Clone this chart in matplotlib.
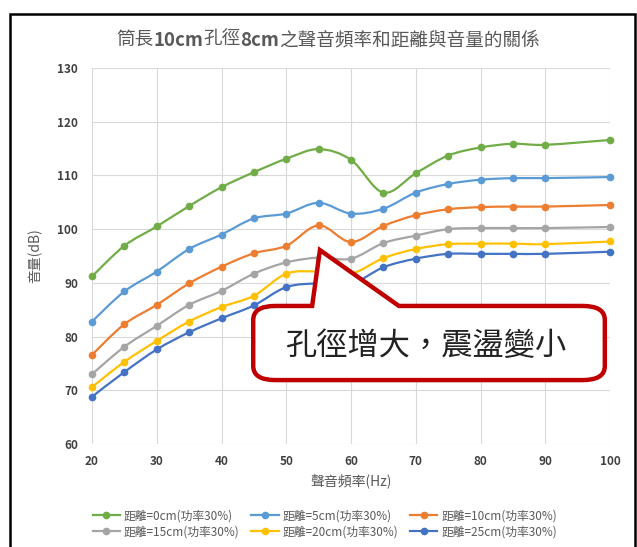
import numpy as np
import matplotlib
matplotlib.use("Agg")
import matplotlib.pyplot as plt
from matplotlib.path import Path
from matplotlib.patches import PathPatch, Rectangle
from matplotlib.lines import Line2D

plt.rcParams['font.family'] = ['Noto Sans CJK TC', 'DejaVu Sans']

# 聲音頻率 (Hz) 與各距離下量到的音量 (dB)
freq = [20, 25, 30, 35, 40, 45, 50, 55, 60, 65, 70, 75, 80, 85, 90, 100]
vol_0cm = [91.2, 96.9, 100.5, 104.3, 107.8, 110.6, 113.1, 114.9, 112.9, 106.8, 110.4, 113.7, 115.2, 115.9, 115.7, 116.6]
vol_5cm = [82.8, 88.4, 92.1, 96.3, 99.0, 102.0, 102.9, 104.9, 102.9, 103.8, 106.8, 108.4, 109.2, 109.5, 109.5, 109.7]
vol_10cm = [76.6, 82.3, 85.9, 89.9, 93.0, 95.5, 96.9, 100.7, 97.6, 100.6, 102.6, 103.7, 104.1, 104.2, 104.2, 104.5]
vol_15cm = [73.0, 78.1, 82.0, 85.9, 88.5, 91.7, 93.8, 94.7, 94.5, 97.4, 98.8, 100.0, 100.2, 100.2, 100.2, 100.4]
vol_20cm = [70.6, 75.3, 79.2, 82.8, 85.5, 87.6, 91.7, 92.1, 91.7, 94.6, 96.3, 97.2, 97.3, 97.3, 97.2, 97.7]
vol_25cm = [68.8, 73.4, 77.6, 80.8, 83.4, 85.8, 89.2, 89.9, 89.8, 92.9, 94.5, 95.4, 95.4, 95.4, 95.4, 95.8]

labels = ["距離=0cm(功率30%)", "距離=5cm(功率30%)", "距離=10cm(功率30%)",
          "距離=15cm(功率30%)", "距離=20cm(功率30%)", "距離=25cm(功率30%)"]
colors = ["#70AD47", "#5B9BD5", "#ED7D31", "#A5A5A5", "#FFC000", "#4472C4"]
series = [vol_0cm, vol_5cm, vol_10cm, vol_15cm, vol_20cm, vol_25cm]

note = "孔徑增大，震盪變小"


def smooth_path(xs, ys):
    # Catmull-Rom style bezier through the points (like Excel's smoothed line)
    pts = np.column_stack([xs, ys]).astype(float)
    n = len(pts)
    verts = [pts[0]]
    codes = [Path.MOVETO]
    for i in range(n - 1):
        p0 = pts[max(i - 1, 0)]
        p1 = pts[i]
        p2 = pts[i + 1]
        p3 = pts[min(i + 2, n - 1)]
        verts += [p1 + (p2 - p0) / 6, p2 - (p3 - p1) / 6, p2]
        codes += [Path.CURVE4] * 3
    return Path(verts, codes)


W, H = 637, 547
fig = plt.figure(figsize=(W / 100, H / 100), dpi=100)
ax = fig.add_axes([92 / W, 1 - 444 / H, (610 - 92) / W, (444 - 68) / H])

handles = []
for vals, col, lab in zip(series, colors, labels):
    ax.add_patch(PathPatch(smooth_path(freq, vals), fill=False, ec=col, lw=1.6,
                           zorder=3, clip_on=False))
    ax.plot(freq, vals, ls='none', marker='o', ms=4.5, color=col, zorder=4, clip_on=False)
    handles.append(Line2D([], [], color=col, lw=1.6, marker='o', ms=4.5))

ax.set_xlim(20, 100)
ax.set_ylim(60, 130)
ax.set_xticks(np.arange(20, 101, 10))
ax.set_yticks(np.arange(60, 131, 10))
ax.grid(True, color='#D9D9D9', lw=0.8)
ax.set_axisbelow(True)
for sp in ax.spines.values():
    sp.set_visible(False)
ax.tick_params(length=0, labelsize=8.5, labelcolor='#404040')
ax.tick_params(axis='y', pad=10)
ax.tick_params(axis='x', pad=8)
for lbl in ax.get_xticklabels() + ax.get_yticklabels():
    lbl.set_fontweight('bold')

ax.set_xlabel("聲音頻率(Hz)", fontsize=10, color='#595959', labelpad=4)
ax.set_ylabel("音量(dB)", fontsize=10, color='#595959')
ax.yaxis.set_label_coords(-0.095, 0.5)

# callout box pointing at the 55 Hz peak
left, right, top, bottom = 44.9, 99.2, 85.7, 71.9
rx, ry = 3.4, 2.6
base_l, base_r = 54.0, 67.4
tip = (55.2, 96.1)
verts = [(left + rx, top), (base_l, top), tip, (base_r, top), (right - rx, top),
         (right, top), (right, top - ry), (right, bottom + ry),
         (right, bottom), (right - rx, bottom), (left + rx, bottom),
         (left, bottom), (left, bottom + ry), (left, top - ry),
         (left, top), (left + rx, top), (left + rx, top)]
codes = [Path.MOVETO, Path.LINETO, Path.LINETO, Path.LINETO, Path.LINETO,
         Path.CURVE3, Path.CURVE3, Path.LINETO,
         Path.CURVE3, Path.CURVE3, Path.LINETO,
         Path.CURVE3, Path.CURVE3, Path.LINETO,
         Path.CURVE3, Path.CURVE3, Path.CLOSEPOLY]
ax.add_patch(PathPatch(Path(verts, codes), fc='white', ec='#C00000', lw=3.2,
                       zorder=6, clip_on=False, joinstyle='miter'))
ax.text((left + right) / 2 - 0.3, (top + bottom) / 2 - 0.6, note, fontsize=22.5,
        fontweight='light', color='#222222', ha='center', va='center', zorder=7)

# title with bold dimensions
title_parts = [("筒長", "normal"), ("10cm", "bold"), ("孔徑", "normal"),
               ("8cm", "bold"), ("之聲音頻率和距離與音量的關係", "normal")]
renderer = fig.canvas.get_renderer()
pieces = [fig.text(0, 1 - 40 / H, s, fontsize=13.4, fontweight=w, color='#595959',
                   va='center') for s, w in title_parts]
widths = [t.get_window_extent(renderer).width for t in pieces]
x = 328 - sum(widths) / 2
for t, w in zip(pieces, widths):
    t.set_x(x / W)
    x += w

# legend filled row by row: 0/5/10 cm on top, 15/20/25 cm below
order = [0, 3, 1, 4, 2, 5]
fig.legend([handles[i] for i in order], [labels[i] for i in order], loc='center',
           bbox_to_anchor=(325 / W, 1 - 524 / H), ncol=3, frameon=False,
           fontsize=8.5, handlelength=2.3, handletextpad=0.35, columnspacing=1.0,
           labelspacing=0.25, labelcolor='#595959')

# outer chart frame
fig.patches.append(Rectangle((10 / W, -0.05), (635 - 10) / W, 1 - 14 / H + 0.05,
                             transform=fig.transFigure, fill=False, ec='black', lw=1.8))

fig.savefig("out.png", dpi=100)
